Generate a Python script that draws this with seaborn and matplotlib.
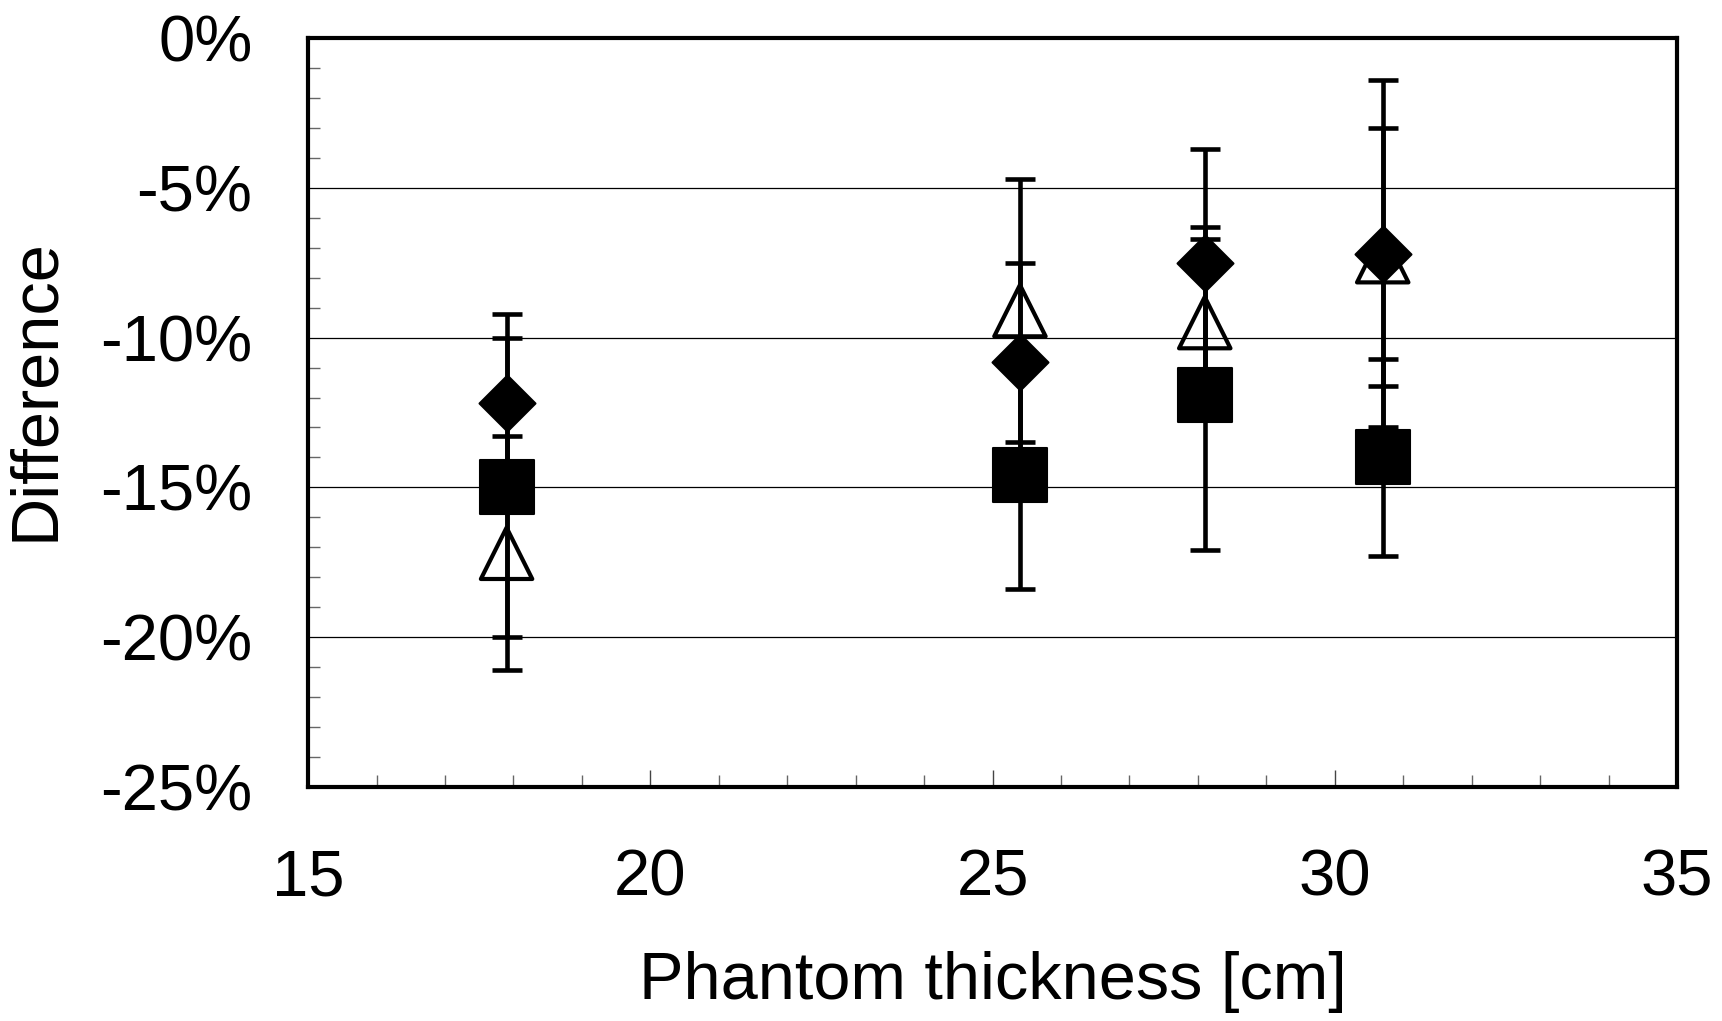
import numpy as np
import pandas as pd
import matplotlib
matplotlib.use("Agg")
import matplotlib.pyplot as plt
import seaborn as sns
from matplotlib.ticker import MultipleLocator, FixedLocator, FixedFormatter

# ---- data ----
thickness = [17.9, 25.4, 28.1, 30.7]

diamond_vals = [-12.2, -10.8, -7.5, -7.2]
diamond_err = [3.0, 3.3, 3.8, 5.8]

square_vals = [-15.0, -14.6, -11.9, -14.0]
square_err = [5.0, 3.8, 5.2, 3.3]

triangle_vals = [-17.2, -9.1, -9.5, -7.3]
triangle_err = [3.9, 4.4, 3.2, 4.3]

y_ticks = [-25, -20, -15, -10, -5, 0]
y_tick_labels = ["-25%", "-20%", "-15%", "-10%", "-5%", "0%"]
x_ticks = [15, 20, 25, 30, 35]
x_tick_labels = ["15", "20", "25", "30", "35"]

# ---- styling ----
sns.set_theme(style="white")
plt.rcParams["font.family"] = ["Liberation Sans", "DejaVu Sans"]
plt.rcParams["axes.unicode_minus"] = False

fig = plt.figure(figsize=(17.22, 10.21), dpi=100)
ax = fig.add_axes([0.1789, 0.2292, 0.9739 - 0.1789, 0.9628 - 0.2292])

frames = []
for name, v, e in [("diamond", diamond_vals, diamond_err),
                   ("square", square_vals, square_err),
                   ("triangle", triangle_vals, triangle_err)]:
    frames.append(pd.DataFrame({"x": thickness, "y": v, "err": e, "series": name}))
df = pd.concat(frames, ignore_index=True)

# error bars first
for name in ["diamond", "square", "triangle"]:
    d = df[df.series == name]
    ax.errorbar(d.x, d.y, yerr=d.err, fmt="none", ecolor="black",
                elinewidth=3.3, capsize=11, capthick=3.3, zorder=3)

# markers
d = df[df.series == "square"]
sns.scatterplot(x=d.x, y=d.y, marker="s", s=39**2, color="black",
                edgecolor="black", linewidth=1.5, ax=ax, zorder=4, legend=False)
d = df[df.series == "triangle"]
ax.scatter(d.x, d.y, marker="^", s=37**2, facecolors="none",
           edgecolors="black", linewidths=3.0, zorder=5)
d = df[df.series == "diamond"]
sns.scatterplot(x=d.x, y=d.y, marker="D", s=28.5**2, color="black",
                edgecolor="black", linewidth=1.5, ax=ax, zorder=6, legend=False)

ax.set_xlim(15, 35)
ax.set_ylim(-25, 0)

ax.xaxis.set_major_locator(FixedLocator(x_ticks))
ax.xaxis.set_major_formatter(FixedFormatter(x_tick_labels))
ax.xaxis.set_minor_locator(MultipleLocator(1))
ax.yaxis.set_major_locator(FixedLocator(y_ticks))
ax.yaxis.set_major_formatter(FixedFormatter(y_tick_labels))
ax.yaxis.set_minor_locator(MultipleLocator(1))

ax.yaxis.grid(True, which="major", color="black", linewidth=0.9)
ax.xaxis.grid(False)
ax.set_axisbelow(True)

for sp in ax.spines.values():
    sp.set_visible(True)
    sp.set_color("black")
    sp.set_linewidth(3.0)
    sp.set_zorder(10)

ax.tick_params(axis="both", which="major", labelsize=47, colors="black",
               direction="in", length=12, width=1.0)
ax.tick_params(axis="x", which="major", pad=44, color="#444444")
ax.tick_params(axis="y", which="major", pad=40, length=0)
ax.tick_params(axis="both", which="minor", direction="in", length=8.6,
               width=1.0, color="#666666")
ax.tick_params(axis="x", which="both", bottom=True, top=False)
ax.tick_params(axis="y", which="both", left=True, right=False)

ax.set_xlabel("Phantom thickness [cm]", fontsize=48, color="black")
ax.set_ylabel("Difference", fontsize=48, color="black")
ax.xaxis.set_label_coords(0.5, -0.219)
ax.yaxis.set_label_coords(-0.176, 0.530)

fig.savefig("out.png", dpi=100, facecolor="white")
